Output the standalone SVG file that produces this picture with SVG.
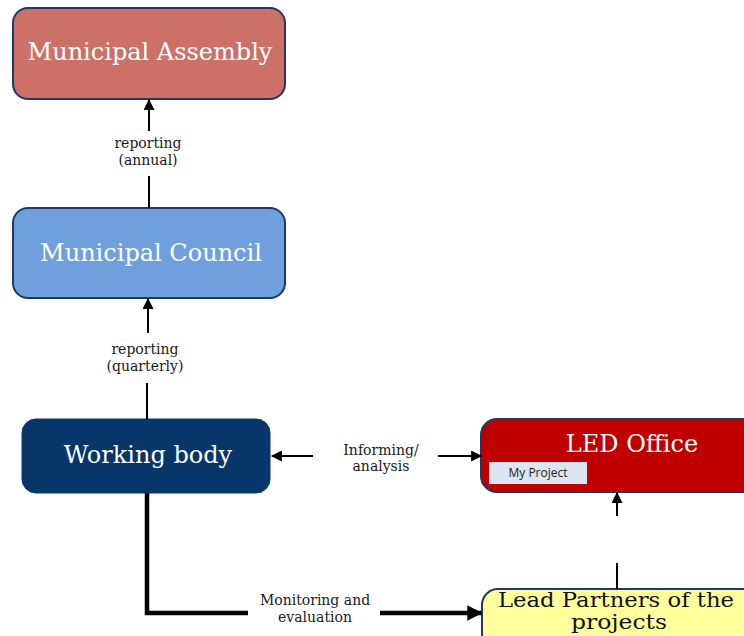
<svg xmlns="http://www.w3.org/2000/svg" width="744" height="636" viewBox="0 0 744 636">
<defs>
<style>
.box{stroke:#1f3864;stroke-width:2}
.t{font-family:"DejaVu Serif","Liberation Serif",serif;text-anchor:middle}
.wt{fill:#ffffff;font-size:24px}
.lbl{fill:#1a1a1a;font-size:14px}
.ln{stroke:#000;stroke-width:2;fill:none}
.thk{stroke:#000;stroke-width:4.5;fill:none}
</style>
<marker id="ah" viewBox="0 0 10 10" refX="9" refY="5" markerWidth="6.5" markerHeight="5.5" orient="auto" markerUnits="strokeWidth">
<path d="M0,0 L10,5 L0,10 z" fill="#000"/>
</marker>
<marker id="ahT" viewBox="0 0 10 10" refX="9" refY="5" markerWidth="5.3" markerHeight="3.4" orient="auto" markerUnits="strokeWidth">
<path d="M0,0 L10,5 L0,10 z" fill="#000"/>
</marker>
</defs>
<rect width="744" height="636" fill="#ffffff"/>

<g id="municipal-assembly">
<rect class="box" x="13" y="8" width="272" height="91" rx="15" fill="#cc7068"/>
<text class="t wt" x="150" y="60">Municipal Assembly</text>
</g>

<g id="municipal-council">
<rect class="box" x="13" y="208" width="272" height="90" rx="15" fill="#6f9fdc"/>
<text class="t wt" x="151" y="261">Municipal Council</text>
</g>

<g id="working-body">
<rect x="22" y="419" width="248" height="74" rx="14" fill="#06366a" stroke="#06366a" stroke-width="1"/>
<text class="t wt" x="148" y="463">Working body</text>
</g>

<g id="led-office">
<rect class="box" x="481" y="419" width="280" height="73" rx="16" fill="#c00000"/>
<text class="t wt" x="632" y="452">LED Office</text>
<rect x="489" y="462" width="98" height="22" fill="#dde5f1"/>
<text x="538" y="477" font-family="'Open Sans','Liberation Sans',sans-serif" font-size="12" fill="#222" text-anchor="middle">My Project</text>
</g>

<g id="lead-partners">
<rect class="box" x="482" y="589" width="280" height="60" rx="16" fill="#ffff9c"/>
<text class="t" x="616" y="607" font-size="20" fill="#111" textLength="236" lengthAdjust="spacingAndGlyphs">Lead Partners of the</text>
<text class="t" x="619" y="629" font-size="20" fill="#111" textLength="96" lengthAdjust="spacingAndGlyphs">projects</text>
</g>

<g id="connectors">
<line class="ln" x1="149" y1="208" x2="149" y2="176"/>
<line class="ln" x1="149" y1="131" x2="149" y2="100" marker-end="url(#ah)"/>
<line class="ln" x1="147" y1="419" x2="147" y2="383"/>
<line class="ln" x1="148" y1="333" x2="148" y2="299" marker-end="url(#ah)"/>
<line class="ln" x1="313" y1="456" x2="272" y2="456" marker-end="url(#ah)"/>
<line class="ln" x1="438" y1="456" x2="481" y2="456" marker-end="url(#ah)"/>
<line class="ln" x1="617" y1="589" x2="617" y2="563"/>
<line class="ln" x1="617" y1="516" x2="617" y2="493" marker-end="url(#ah)"/>
<polyline class="thk" points="147,493 147,613 248,613"/>
<line class="thk" x1="380" y1="613" x2="481" y2="613" marker-end="url(#ahT)"/>
</g>

<g id="labels">
<text class="t lbl" x="148" y="148">reporting</text>
<text class="t lbl" x="148" y="165">(annual)</text>
<text class="t lbl" x="145" y="354">reporting</text>
<text class="t lbl" x="145" y="371">(quarterly)</text>
<text class="t lbl" x="381" y="455">Informing/</text>
<text class="t lbl" x="381" y="471">analysis</text>
<text class="t lbl" x="315" y="605">Monitoring and</text>
<text class="t lbl" x="315" y="622">evaluation</text>
</g>
</svg>
